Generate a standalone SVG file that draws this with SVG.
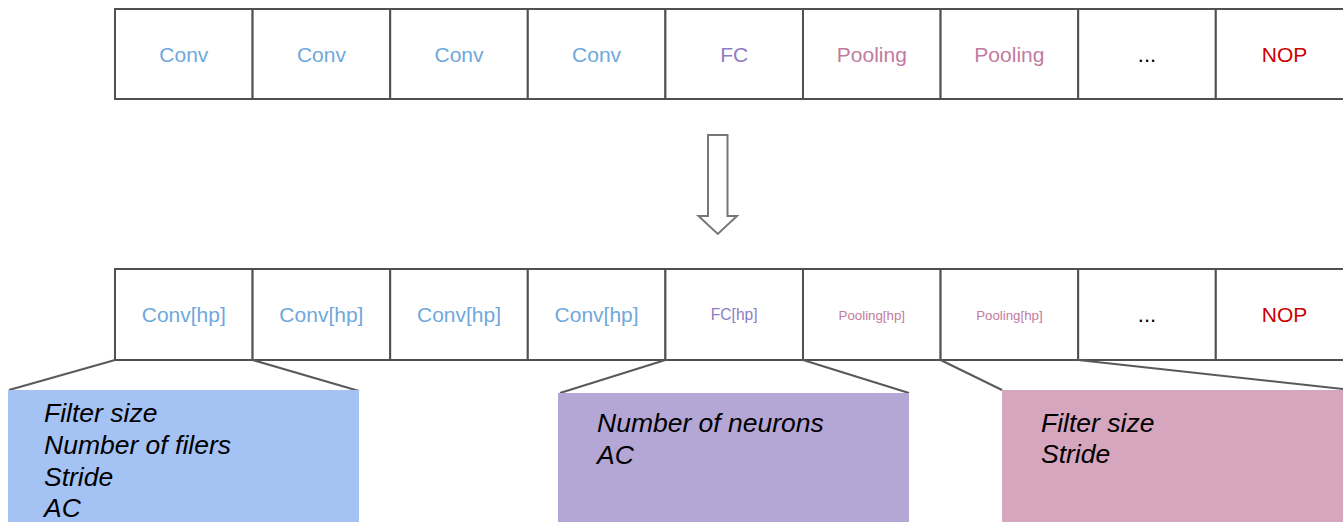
<svg xmlns="http://www.w3.org/2000/svg" width="1343" height="522" viewBox="0 0 1343 522">
  <style>
    .cell { fill: #ffffff; stroke: #505050; stroke-width: 2; }
    .lbl { font-family: "Liberation Sans", Arial, sans-serif; text-anchor: middle; }
    .conv { fill: #6fa8dc; font-size: 21px; }
    .fc { fill: #8e7cc3; }
    .pool { fill: #c27ba0; }
    .dots { fill: #000000; font-size: 22px; }
    .nop { fill: #cc0000; font-size: 21px; }
    .note { font-family: "Liberation Sans", Arial, sans-serif; font-style: italic; font-size: 26.5px; fill: #000000; }
    .link { stroke: #595959; stroke-width: 2; fill: none; }
  </style>

  <rect width="1343" height="522" fill="#ffffff"/>

  <!-- top sequence of layers -->
  <g id="top-row">
    <g id="top-conv1"><rect class="cell" x="115" y="9" width="137.6" height="90"/><text class="lbl conv" x="183.8" y="61.5">Conv</text></g>
    <g id="top-conv2"><rect class="cell" x="252.6" y="9" width="137.6" height="90"/><text class="lbl conv" x="321.4" y="61.5">Conv</text></g>
    <g id="top-conv3"><rect class="cell" x="390.2" y="9" width="137.6" height="90"/><text class="lbl conv" x="459" y="61.5">Conv</text></g>
    <g id="top-conv4"><rect class="cell" x="527.8" y="9" width="137.6" height="90"/><text class="lbl conv" x="596.6" y="61.5">Conv</text></g>
    <g id="top-fc"><rect class="cell" x="665.4" y="9" width="137.6" height="90"/><text class="lbl fc" font-size="21" x="734.2" y="61.5">FC</text></g>
    <g id="top-pool1"><rect class="cell" x="803" y="9" width="137.6" height="90"/><text class="lbl pool" font-size="21" x="871.8" y="61.5">Pooling</text></g>
    <g id="top-pool2"><rect class="cell" x="940.6" y="9" width="137.6" height="90"/><text class="lbl pool" font-size="21" x="1009.4" y="61.5">Pooling</text></g>
    <g id="top-more"><rect class="cell" x="1078.2" y="9" width="137.6" height="90"/><text class="lbl dots" x="1147" y="61.5">...</text></g>
    <g id="top-nop"><rect class="cell" x="1215.8" y="9" width="137.6" height="90"/><text class="lbl nop" x="1284.6" y="61.5">NOP</text></g>
  </g>

  <!-- hollow down arrow -->
  <g id="arrow">
    <path d="M708 135 H727.5 V216 H737 L717.8 234 L698.5 216 H708 Z" fill="#ffffff" stroke="#777777" stroke-width="2" stroke-linejoin="miter"/>
  </g>

  <!-- bottom sequence with hyper-parameters -->
  <g id="bottom-row">
    <g id="bot-conv1"><rect class="cell" x="115" y="269" width="137.6" height="91"/><text class="lbl conv" x="183.8" y="322">Conv[hp]</text></g>
    <g id="bot-conv2"><rect class="cell" x="252.6" y="269" width="137.6" height="91"/><text class="lbl conv" x="321.4" y="322">Conv[hp]</text></g>
    <g id="bot-conv3"><rect class="cell" x="390.2" y="269" width="137.6" height="91"/><text class="lbl conv" x="459" y="322">Conv[hp]</text></g>
    <g id="bot-conv4"><rect class="cell" x="527.8" y="269" width="137.6" height="91"/><text class="lbl conv" x="596.6" y="322">Conv[hp]</text></g>
    <g id="bot-fc"><rect class="cell" x="665.4" y="269" width="137.6" height="91"/><text class="lbl fc" font-size="15.6" x="734.2" y="320">FC[hp]</text></g>
    <g id="bot-pool1"><rect class="cell" x="803" y="269" width="137.6" height="91"/><text class="lbl pool" font-size="13.3" x="871.8" y="319.5">Pooling[hp]</text></g>
    <g id="bot-pool2"><rect class="cell" x="940.6" y="269" width="137.6" height="91"/><text class="lbl pool" font-size="13.3" x="1009.4" y="319.5">Pooling[hp]</text></g>
    <g id="bot-more"><rect class="cell" x="1078.2" y="269" width="137.6" height="91"/><text class="lbl dots" x="1147" y="322">...</text></g>
    <g id="bot-nop"><rect class="cell" x="1215.8" y="269" width="137.6" height="91"/><text class="lbl nop" x="1284.6" y="322">NOP</text></g>
  </g>

  <!-- zoom-out lines from cells to detail panels -->
  <g id="connectors">
    <line class="link" x1="115" y1="360" x2="9" y2="390"/>
    <line class="link" x1="252.6" y1="360" x2="359" y2="391"/>
    <line class="link" x1="665.4" y1="360" x2="560" y2="393"/>
    <line class="link" x1="803" y1="360" x2="909" y2="393"/>
    <line class="link" x1="940.6" y1="360" x2="1002" y2="390"/>
    <line class="link" x1="1078.2" y1="360" x2="1343" y2="389"/>
  </g>

  <!-- detail panels -->
  <g id="conv-detail">
    <rect x="8" y="390" width="351" height="140" fill="#a4c2f4"/>
    <text class="note" x="44" y="422">Filter size</text>
    <text class="note" x="44" y="454">Number of filers</text>
    <text class="note" x="44" y="486">Stride</text>
    <text class="note" x="44" y="517">AC</text>
  </g>
  <g id="fc-detail">
    <rect x="558" y="393" width="351" height="137" fill="#b4a7d6"/>
    <text class="note" x="597" y="432">Number of neurons</text>
    <text class="note" x="597" y="464">AC</text>
  </g>
  <g id="pool-detail">
    <rect x="1002" y="390" width="360" height="140" fill="#d5a6bd"/>
    <text class="note" x="1041" y="432">Filter size</text>
    <text class="note" x="1041" y="463">Stride</text>
  </g>
</svg>
